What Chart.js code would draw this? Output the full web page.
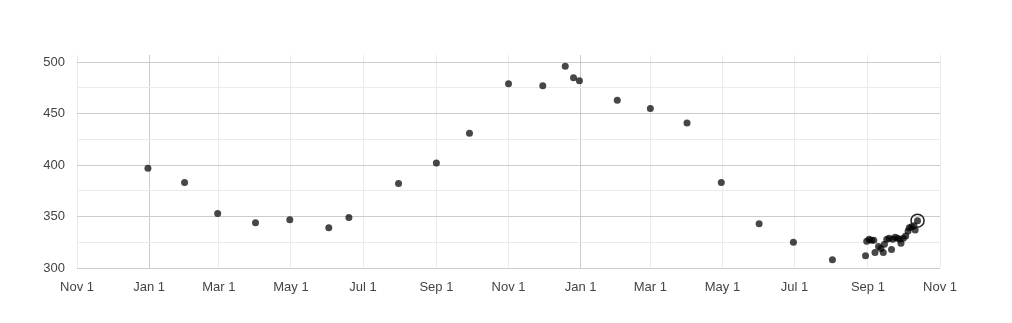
<!DOCTYPE html>
<html>
<head>
<meta charset="utf-8">
<script src="https://cdn.jsdelivr.net/npm/chart.js@4.4.1/dist/chart.umd.min.js"></script>
<style>
  html, body { margin: 0; padding: 0; background: #fff; }
  canvas { display: block; }
</style>
</head>
<body>
<canvas id="chart" width="1012" height="323"></canvas>
<script>
// observation dates and values
const dates = [
    '2016-12-31', '2017-01-31', '2017-02-28', '2017-04-01', '2017-04-30', '2017-06-02',
    '2017-06-19', '2017-07-31', '2017-09-01', '2017-09-29', '2017-11-01', '2017-11-30',
    '2017-12-19', '2017-12-26', '2017-12-31', '2018-02-01', '2018-03-01', '2018-04-01',
    '2018-04-30', '2018-06-01', '2018-06-30', '2018-08-02',
    '2018-08-30', '2018-08-31', '2018-09-02', '2018-09-04', '2018-09-06', '2018-09-07',
    '2018-09-10', '2018-09-12', '2018-09-14', '2018-09-15', '2018-09-17', '2018-09-19',
    '2018-09-21', '2018-09-22', '2018-09-24', '2018-09-26', '2018-09-28', '2018-09-29',
    '2018-10-01', '2018-10-03', '2018-10-05', '2018-10-06', '2018-10-08', '2018-10-10',
    '2018-10-11', '2018-10-13'
];
const values = [
    397, 383, 353, 344, 347, 339,
    349, 382, 402, 431, 479, 477,
    496, 485, 482, 463, 455, 441,
    383, 343, 325, 308,
    312, 326, 328, 327, 327, 315,
    321, 319, 315, 323, 328, 329,
    318, 328, 330, 329, 328, 324,
    329, 331, 336, 339, 340, 341,
    337, 346
];

// axis ticks
const xTicks = ['2016-11-01', '2017-01-01', '2017-03-01', '2017-05-01', '2017-07-01', '2017-09-01',
    '2017-11-01', '2018-01-01', '2018-03-01', '2018-05-01', '2018-07-01', '2018-09-01', '2018-11-01'];
const yTicks = [300, 325, 350, 375, 400, 425, 450, 475, 500];
const monthNames = ['Jan', 'Feb', 'Mar', 'Apr', 'May', 'Jun', 'Jul', 'Aug', 'Sep', 'Oct', 'Nov', 'Dec'];

const toTime = s => new Date(s + 'T00:00:00Z').getTime();

const points = dates.map((d, i) => ({ x: toTime(d), y: values[i] }));
const lastPoint = points[points.length - 1];

const MAJOR = '#cccccc';
const MINOR = '#ebebeb';

new Chart(document.getElementById('chart'), {
    type: 'scatter',
    data: {
        datasets: [
            {
                data: [lastPoint],
                pointRadius: 6.5,
                backgroundColor: 'rgba(0,0,0,0)',
                borderColor: '#222',
                borderWidth: 1.5
            },
            {
                data: points,
                pointRadius: 3.5,
                backgroundColor: 'rgba(0,0,0,0.72)',
                borderWidth: 0
            }
        ]
    },
    options: {
        responsive: false,
        animation: false,
        events: [],
        layout: { padding: { left: 0, right: 72, top: 55, bottom: 0 } },
        plugins: { legend: { display: false }, tooltip: { enabled: false } },
        scales: {
            x: {
                type: 'linear',
                min: toTime(xTicks[0]),
                max: toTime(xTicks[xTicks.length - 1]),
                afterBuildTicks: scale => { scale.ticks = xTicks.map(t => ({ value: toTime(t) })); },
                afterFit: scale => { scale.height = 55; },
                border: { display: false },
                grid: {
                    drawTicks: false,
                    color: ctx => (ctx.tick && new Date(ctx.tick.value).getUTCMonth() === 0) ? MAJOR : MINOR
                },
                ticks: {
                    autoSkip: false,
                    maxRotation: 0,
                    padding: 12,
                    color: '#444',
                    font: { family: 'Liberation Sans, Arial, sans-serif', size: 13 },
                    callback: v => monthNames[new Date(v).getUTCMonth()] + ' 1'
                }
            },
            y: {
                min: 300,
                max: 507,
                afterBuildTicks: scale => { scale.ticks = yTicks.map(v => ({ value: v })); },
                afterFit: scale => { scale.width = 77; },
                border: { display: false },
                grid: {
                    drawTicks: false,
                    color: ctx => (ctx.tick && ctx.tick.value % 50 === 0) ? MAJOR : MINOR
                },
                ticks: {
                    padding: 12,
                    color: '#444',
                    font: { family: 'Liberation Sans, Arial, sans-serif', size: 13 },
                    callback: v => (v % 50 === 0 ? v : '')
                }
            }
        }
    }
});
</script>
</body>
</html>
